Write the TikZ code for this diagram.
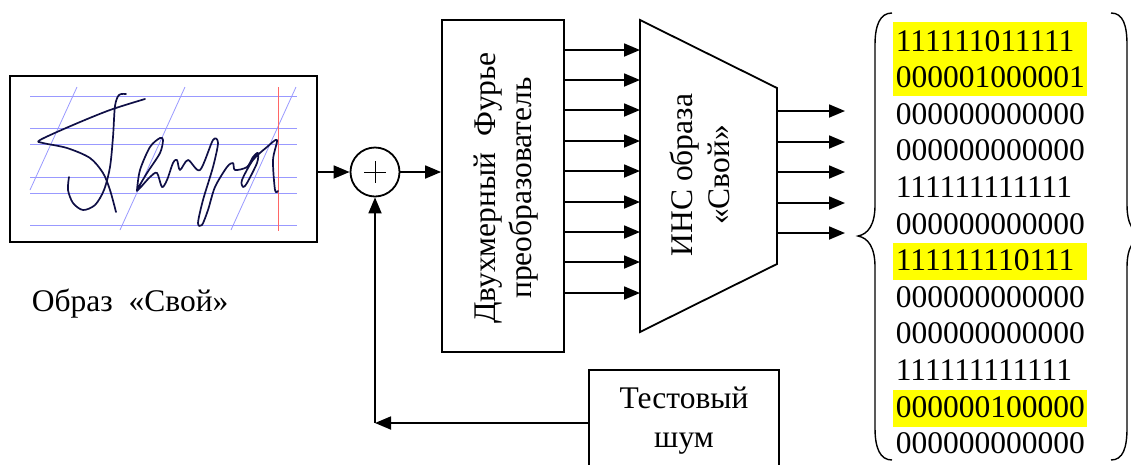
\documentclass[tikz,border=0pt]{standalone}
\usepackage{fontspec}
\setmainfont{Liberation Serif}
\usetikzlibrary{arrows.meta}
\definecolor{sigblue}{RGB}{15,15,70}
\definecolor{hl}{RGB}{255,255,0}
\begin{document}
\begin{tikzpicture}[x=1pt,y=-1pt,
  line width=1.8pt,
  arr/.style={-{Triangle[length=16pt,width=13pt]}},
  box/.style={draw,rectangle,inner sep=0pt},
  txt/.style={font=\fontsize{31.5}{36.6}\selectfont, inner sep=0pt},
  sigline/.style={draw=blue!40, line width=0.8pt},
  ink/.style={draw=sigblue, line width=1.7pt, line cap=round, line join=round},
  brace/.style={line width=1.4pt},
  row/.style={txt, anchor=base west}
]
\useasboundingbox (0,0) rectangle (1131,464);
\clip (0,0) rectangle (1131,464);

% signature image
\node[box, minimum width=307pt, minimum height=166pt] (sig) at (163.5,159) {};
\foreach \y in {96,128,144,177,193,225} \draw[sigline] (30,\y) -- (297,\y);
\draw[sigline] (77,87) -- (30,190);
\draw[sigline] (185,87) -- (120,230);
\draw[sigline] (296,87) -- (231,230);
\draw[red!60, line width=0.8pt] (278,87) -- (278,231);
\draw[ink] plot[smooth, tension=0.5] coordinates {(145,99) (110,110) (73,125) (40,140) (43,143) (67,148) (90,158) (103,173) (110,190) (116,212)};
\draw[ink] plot[smooth, tension=0.5] coordinates {(126,94) (119,95) (115,106) (113,137) (110,167) (104,190) (95,205) (83,210) (73,203) (68,190) (69,177)};
\draw[ink] plot[smooth, tension=0.5] coordinates {(137,190) (140,170) (150,147) (160,138) (163,140) (160,153) (147,173) (137,190) (140,188) (150,177) (157,173) (162,187) (167,180) (173,163) (177,160) (180,170) (188,160) (200,170) (213,140) (218,143) (213,167) (203,200) (198,223) (202,225) (208,210) (215,187) (227,167) (233,163) (235,170) (247,167) (253,157) (258,153) (257,163) (247,183) (243,187) (242,180) (253,160) (267,147) (277,140) (273,160) (275,190) (278,191)};

\node[row] (cap) at (31,311) {Образ\ \ «Свой»};

% adder
\node[draw, circle, minimum size=49pt, inner sep=0pt] (sum) at (375,172) {};
\draw[line width=1pt] (sum.center) ++(-11,0) -- ++(22,0);
\draw[line width=1pt] (sum.center) ++(0,-11) -- ++(0,22);

% Fourier block
\node[box, minimum width=122pt, minimum height=332pt] (ft) at (503,186) {};
\node[txt, rotate=90, align=center] (ftl) at (506,188) {Двухмерный\ \ Фурье\\преобразователь};

\draw[arr] (sig.east |- sum.west) -- (sum.west);
\draw[arr] (sum.east) -- (ft.west |- sum.east);

% ANN trapezoid
\coordinate (tA) at (640,20);
\coordinate (tB) at (777,88);
\coordinate (tC) at (777,264);
\coordinate (tD) at (640,332);
\draw[line join=miter] (tA) -- (tB) -- (tC) -- (tD) -- cycle;
\node[txt, rotate=90, align=center] (ins) at (700,175) {ИНС образа\\«Свой»};

\foreach \y in {50,80,110,141,171,202,232,262,293}
  \draw[arr] (ft.east |- 0,\y) -- (tA |- 0,\y);
\coordinate (outend) at (845,0);
\foreach \y in {111,142,172,203,233}
  \draw[arr] (tB |- 0,\y) -- (outend |- 0,\y);

% code matrix
\fill[hl] (893,22) rectangle (1087,96);
\fill[hl] (893,243) rectangle (1087,280);
\fill[hl] (893,390) rectangle (1087,427);
\foreach \t [count=\i from 0] in {111111011111,000001000001,000000000000,000000000000,111111111111,000000000000,111111110111,000000000000,000000000000,111111111111,000000100000,000000000000}
  \node[row] (r\i) at (895,51+36.6*\i) {\t};

\draw[brace] (892,13) .. controls (880,13) and (875,25) .. (875,45) -- (875,205)
  .. controls (875,225) and (868,234) .. (858,236)
  .. controls (868,238) and (875,247) .. (875,267) -- (875,428)
  .. controls (875,448) and (880,460) .. (892,460);
\draw[brace] (1111,13) .. controls (1123,13) and (1127,25) .. (1127,45) -- (1127,205)
  .. controls (1127,225) and (1134,234) .. (1144,236)
  .. controls (1134,238) and (1127,247) .. (1127,267) -- (1127,428)
  .. controls (1127,448) and (1123,460) .. (1111,460);

% test noise
\node[box, minimum width=190pt, minimum height=106pt] (tn) at (684,423) {};
\node[txt, anchor=base] (tnl1) at (684,408) {Тестовый};
\node[txt, anchor=base] (tnl2) at (684,447) {шум};
\coordinate (corner) at (sum |- tn.west);
\draw[arr] (tn.west) -- (corner);
\draw[arr] (corner) -- (sum.south);
\end{tikzpicture}
\end{document}
